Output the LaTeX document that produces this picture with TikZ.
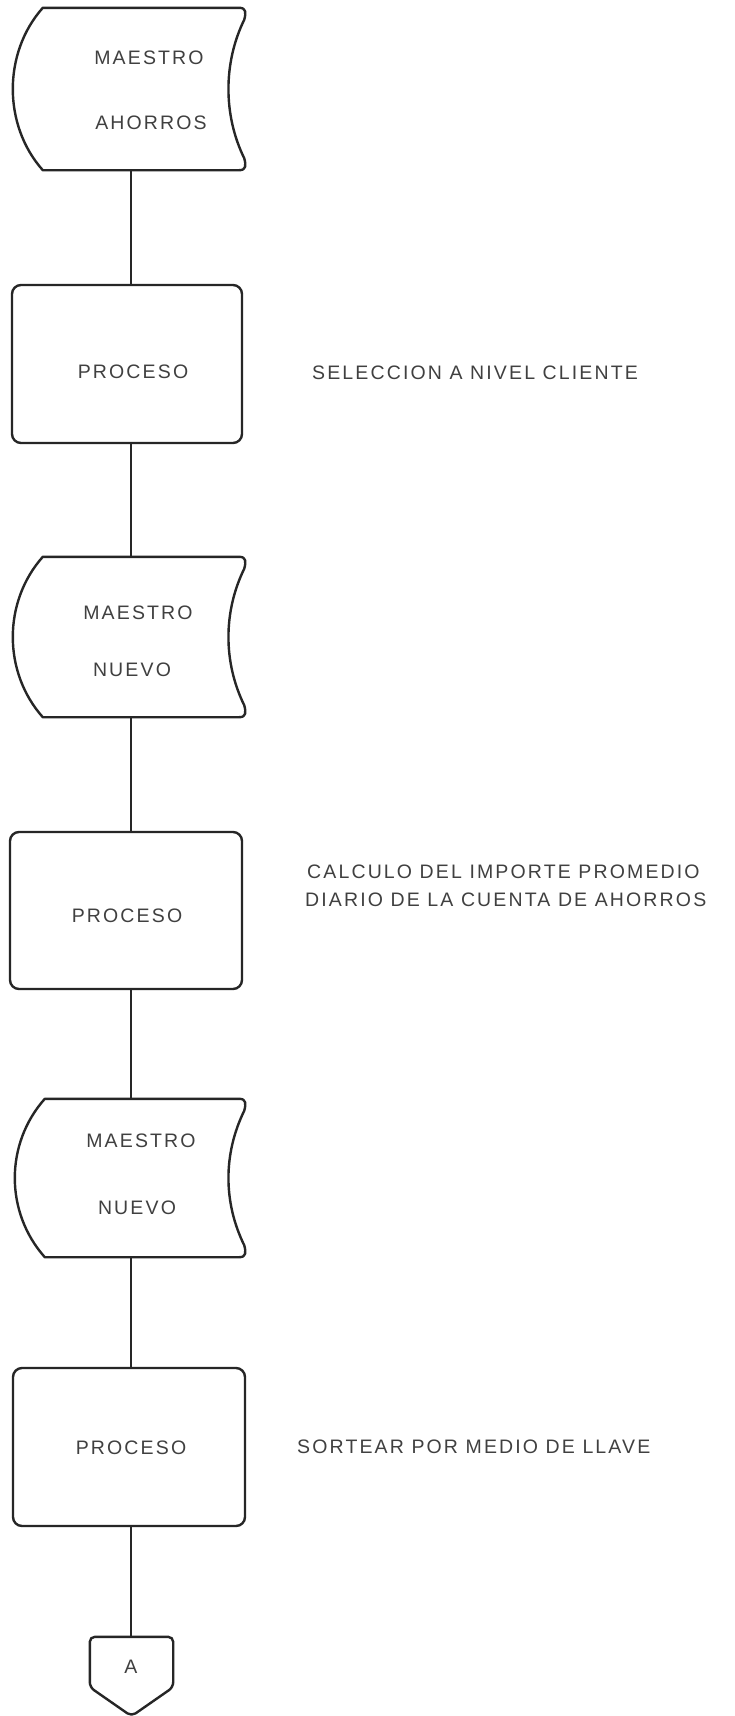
\documentclass[tikz,border=0pt]{standalone}
\usepackage{fontspec}
\setmainfont{Liberation Sans}
\newfontfamily\chartfont[LetterSpace=11]{Liberation Sans}
\usetikzlibrary{calc}

% outline of a magnetic-tape / file symbol drawn around an (invisible) node
\newcommand\tapeoutline[1]{%
  \draw[outline]
    ($(#1.north west)+(30,0)$) -- ($(#1.north east)+(-6,0)$)
    .. controls ($(#1.north east)+(1,0)$) and ($(#1.north east)+(1,5)$) .. ($(#1.north east)+(-1,12)$)
    .. controls ($(#1.north east)+(-22,55)$) and ($(#1.south east)+(-22,-55)$) .. ($(#1.south east)+(-1,-12)$)
    .. controls ($(#1.south east)+(1,-5)$) and ($(#1.south east)+(1,0)$) .. ($(#1.south east)+(-6,0)$)
    -- ($(#1.south west)+(30,0)$)
    .. controls ($(#1.south west)+(-10,-45)$) and ($(#1.north west)+(-10,45)$) .. cycle;}

\begin{document}
\begin{tikzpicture}[x=1pt,y=-1pt,
  outline/.style={draw=black!85, line width=2.4pt, line join=round},
  link/.style={draw=black!85, line width=2.2pt},
  tapebox/.style={minimum width=232pt, minimum height=162pt, inner sep=0pt, draw=none},
  procbox/.style={outline, rounded corners=9pt, minimum width=230pt, minimum height=158pt, inner sep=0pt},
  lbl/.style={font=\chartfont\fontsize{19.5}{22}\selectfont, text=black!75, inner sep=0pt},
  note/.style={lbl, anchor=west},
]
\fill[white] (0,0) rectangle (735,1716);
\useasboundingbox (0,0) rectangle (735,1716);

\coordinate (spine) at (131,0);

% files
\node[tapebox] (t1) at (129,89) {};
\node[tapebox, minimum height=160pt] (t2) at (129,637) {};
\node[tapebox, minimum width=230pt, minimum height=158pt] (t3) at (130,1178) {};
\tapeoutline{t1}
\tapeoutline{t2}
\tapeoutline{t3}

\node[lbl] (t1a) at (149,58) {MAESTRO};
\node[lbl] (t1b) at (151,123) {AHORROS};
\node[lbl] (t2a) at (138,613) {MAESTRO};
\node[lbl] (t2b) at (132,670) {NUEVO};
\node[lbl] (t3a) at (141,1141) {MAESTRO};
\node[lbl] (t3b) at (137,1208) {NUEVO};

% processes
\node[procbox] (p1) at (127,364) {};
\node[procbox, minimum width=232pt, minimum height=157pt] (p2) at (126,910.5) {};
\node[procbox, minimum width=232pt] (p3) at (129,1447) {};

\node[lbl] (p1t) at (133,372) {PROCESO};
\node[lbl] (p2t) at (127,916) {PROCESO};
\node[lbl] (p3t) at (131,1448) {PROCESO};

% remarks
\node[note] (n1) at (312,373) {SELECCION A NIVEL CLIENTE};
\node[note] (n2a) at (307,872) {CALCULO DEL IMPORTE PROMEDIO};
\node[note] (n2b) at (305,900) {DIARIO DE LA CUENTA DE AHORROS};
\node[note] (n3) at (297,1447) {SORTEAR POR MEDIO DE LLAVE};

% off-page connector
\node[minimum width=83pt, minimum height=79pt, inner sep=0pt, draw=none] (conn) at (131.5,1676.5) {};
\draw[outline, rounded corners=5pt]
  (conn.north west) -- (conn.north east) -- ($(conn.south east)+(0,-29)$)
  -- (conn.south) -- ($(conn.south west)+(0,-29)$) -- cycle;
\node[lbl] (connt) at (131,1667) {A};

% flow lines
\draw[link] (t1.south -| spine) -- (p1.north -| spine);
\draw[link] (p1.south -| spine) -- (t2.north -| spine);
\draw[link] (t2.south -| spine) -- (p2.north -| spine);
\draw[link] (p2.south -| spine) -- (t3.north -| spine);
\draw[link] (t3.south -| spine) -- (p3.north -| spine);
\draw[link] (p3.south -| spine) -- (conn.north -| spine);
\end{tikzpicture}
\end{document}
